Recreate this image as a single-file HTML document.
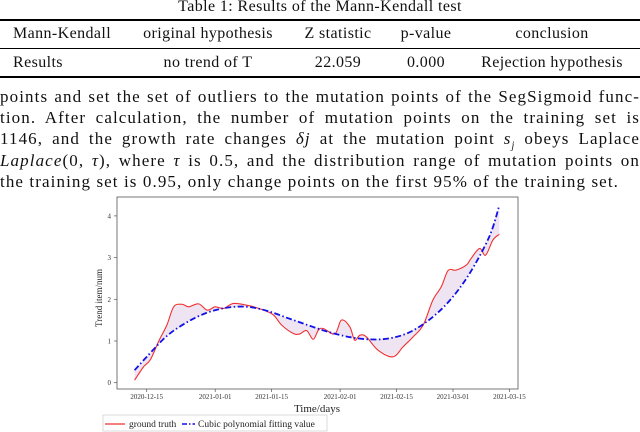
<!DOCTYPE html>
<html><head><meta charset="utf-8">
<style>
html,body{margin:0;padding:0;background:#fff;}
body{width:640px;height:432px;position:relative;overflow:hidden;font-family:"Liberation Serif","Times New Roman","DejaVu Serif",serif;color:#111;}
.t{position:absolute;white-space:nowrap;line-height:18px;letter-spacing:0.4px;}
.rule{position:absolute;left:0;width:640px;background:#000;}
.p{position:absolute;left:0;width:640px;font-size:17px;letter-spacing:1.1px;line-height:20px;text-align:justify;text-align-last:justify;white-space:nowrap;}
</style></head><body>
<div class="t" style="left:0;width:640px;text-align:center;top:-2px;font-size:16px;">Table 1: Results of the Mann-Kendall test</div>
<div class="rule" style="top:19px;height:2px;"></div>
<div class="rule" style="top:48px;height:1px;"></div>
<div class="rule" style="top:76px;height:2px;"></div>
<div>
<div class="t" style="left:13px;top:25px;font-size:16px;">Mann-Kendall</div>
<div class="t" style="left:208px;transform:translateX(-50%);top:25px;font-size:16px;">original hypothesis</div>
<div class="t" style="left:338px;transform:translateX(-50%);top:25px;font-size:16px;">Z statistic</div>
<div class="t" style="left:426px;transform:translateX(-50%);top:25px;font-size:16px;">p-value</div>
<div class="t" style="left:552px;transform:translateX(-50%);top:25px;font-size:16px;">conclusion</div>
</div>
<div>
<div class="t" style="left:13px;top:54px;font-size:16px;">Results</div>
<div class="t" style="left:208px;transform:translateX(-50%);top:54px;font-size:16px;">no trend of T</div>
<div class="t" style="left:338px;transform:translateX(-50%);top:54px;font-size:16px;">22.059</div>
<div class="t" style="left:426px;transform:translateX(-50%);top:54px;font-size:16px;">0.000</div>
<div class="t" style="left:552px;transform:translateX(-50%);top:54px;font-size:16px;">Rejection hypothesis</div>
</div>
<div>
<div class="p" style="top:87px;">points and set the set of outliers to the mutation points of the SegSigmoid func-</div>
<div class="p" style="top:108px;">tion. After calculation, the number of mutation points on the training set is</div>
<div class="p" style="top:129px;">1146, and the growth rate changes <i>δj</i> at the mutation point <i>s<sub style="font-size:10px;line-height:0">j</sub></i> obeys Laplace</div>
<div class="p" style="top:151px;"><i>Laplace</i>(0, <i>τ</i>), where <i>τ</i> is 0.5, and the distribution range of mutation points on</div>
<div class="p" style="top:172px;text-align-last:left;">the training set is 0.95, only change points on the first 95% of the training set.</div>
</div>
<svg id="chart" width="640" height="432" style="position:absolute;left:0;top:0;" font-family="Liberation Serif, Times New Roman, DejaVu Serif, serif"></svg>
<script>
const tickDays=[0,17,31,48,62,76,90];
const tickLabels=["2020-12-15","2021-01-01","2021-01-15","2021-02-01","2021-02-15","2021-03-01","2021-03-15"];
const yTicks=[0,1,2,3,4];
const truthDays=[-3,-0.8,0.9,3,5,6.7,8.8,10.4,12.9,15,17,19.1,21.6,25.7,29,31.5,33.5,36.4,38,39.7,41.3,42.6,43.8,46.7,48.3,50.4,51.6,52.9,54.5,57.4,61.1,63.6,66.1,68.6,71,73.1,74.8,76.8,79.3,80.5,82.6,84.1,85.9,87.5];
const truthVals=[0.06,0.38,0.55,1.0,1.38,1.82,1.88,1.82,1.89,1.74,1.82,1.78,1.9,1.84,1.74,1.62,1.38,1.18,1.17,1.25,1.04,1.26,1.3,1.17,1.5,1.34,1.02,1.14,1.1,0.78,0.62,0.86,1.1,1.38,1.98,2.3,2.69,2.7,2.82,2.98,3.22,3.06,3.42,3.56];
const fitDays=[-3,0,5,10,15,20,25,30,35,40,45,50,55,60,65,70,75,80,85,87.5];
const fitVals=[0.3,0.62,1.12,1.45,1.68,1.8,1.82,1.72,1.55,1.38,1.22,1.1,1.04,1.06,1.2,1.5,1.95,2.6,3.5,4.25];

const X0=146.7,PXD=4.03,Y0=382.7,PXU=41.7;
const xs=d=>X0+d*PXD, ys=v=>Y0-v*PXU;
const svg=document.getElementById('chart');
const NS='http://www.w3.org/2000/svg';
function mk(tag,attrs){const e=document.createElementNS(NS,tag);for(const k in attrs)e.setAttribute(k,attrs[k]);svg.appendChild(e);return e;}
function interp(ds,vs,d){if(d<=ds[0])return vs[0];for(let i=1;i<ds.length;i++){if(d<=ds[i]){const t=(d-ds[i-1])/(ds[i]-ds[i-1]);return vs[i-1]+t*(vs[i]-vs[i-1]);}}return vs[vs.length-1];}
function smooth(ds,vs){const pts=ds.map((d,i)=>[xs(d),ys(vs[i])]);let s='M'+pts[0][0]+','+pts[0][1];for(let i=0;i<pts.length-1;i++){const p0=pts[Math.max(0,i-1)],p1=pts[i],p2=pts[i+1],p3=pts[Math.min(pts.length-1,i+2)];const c1=[p1[0]+(p2[0]-p0[0])/6,p1[1]+(p2[1]-p0[1])/6],c2=[p2[0]-(p3[0]-p1[0])/6,p2[1]-(p3[1]-p1[1])/6];s+=' C'+c1[0]+','+c1[1]+' '+c2[0]+','+c2[1]+' '+p2[0]+','+p2[1];}return s;}

const fr=mk('rect',{x:117,y:197,width:401,height:192,fill:'none',stroke:'#555','stroke-width':0.8});


yTicks.forEach(v=>{
 const l=mk('line',{x1:114,x2:117,y1:ys(v),y2:ys(v),stroke:'#555','stroke-width':0.7});
 
 
 const t=mk('text',{x:111,y:ys(v)+2.5,'font-size':7,'text-anchor':'end',fill:'#333'});t.textContent=v;
 
 
});
tickDays.forEach((d,i)=>{
 const l=mk('line',{x1:xs(d),x2:xs(d),y1:389,y2:392,stroke:'#555','stroke-width':0.7});
 
 
 const t=mk('text',{x:xs(d),y:399,'font-size':7,'text-anchor':'middle',fill:'#333'});t.textContent=tickLabels[i];
 
 
});
let poly=[];const dStart=truthDays[0],dEnd=truthDays[truthDays.length-1];
for(let d=dStart;d<=dEnd;d+=0.5)poly.push(xs(d)+','+ys(interp(truthDays,truthVals,d)));
for(let d=dEnd;d>=dStart;d-=0.5)poly.push(xs(d)+','+ys(interp(fitDays,fitVals,d)));
const fill=mk('polygon',{points:poly.join(' '),fill:'#ece0f0',opacity:0.85});


const gt=mk('path',{d:smooth(truthDays,truthVals),fill:'none',stroke:'#f03030','stroke-width':1.1});


const ft=mk('path',{d:smooth(fitDays,fitVals),fill:'none',stroke:'#1010e8','stroke-width':1.8,'stroke-dasharray':'6 2.5 1.5 2.5'});


const xt=mk('text',{x:317,y:412,'font-size':11,'text-anchor':'middle',fill:'#222'});xt.textContent='Time/days';


const yt=mk('text',{x:0,y:0,'font-size':9,'text-anchor':'middle',fill:'#222',transform:'translate(102,298) rotate(-90)'});yt.textContent='Trend item/num';


const lb=mk('rect',{x:103,y:415,width:224,height:16,fill:'#fff',stroke:'#ccc','stroke-width':0.7});


const l1=mk('line',{x1:105,x2:125,y1:424,y2:424,stroke:'#f03030','stroke-width':1.3});


const lt1=mk('text',{x:129,y:427,'font-size':9.5,fill:'#222'});lt1.textContent='ground truth';


const l2=mk('line',{x1:182,x2:195,y1:424,y2:424,stroke:'#1010e8','stroke-width':1.5,'stroke-dasharray':'5 2 1.5 2'});


const lt2=mk('text',{x:198,y:427,'font-size':9.5,fill:'#222'});lt2.textContent='Cubic polynomial fitting value';


</script>
</body></html>
